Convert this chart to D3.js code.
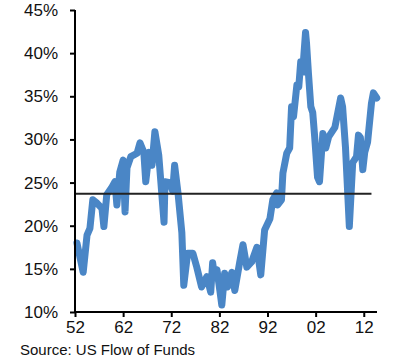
<!DOCTYPE html>
<html><head><meta charset="utf-8">
<script src="https://cdn.jsdelivr.net/npm/d3@7"></script>
<style>body{margin:0;background:#fff}svg{display:block}text{font-family:"Liberation Sans",Arial,sans-serif;fill:#111}</style>
</head><body><svg id="c" width="411" height="360"></svg>
<script>
const years = [1952.4,1953.7,1954.5,1955.1,1955.7,1956.6,1957.6,1958.0,1958.6,1959.7,1960.3,1960.7,1961.3,1962.0,1962.4,1962.8,1963.6,1964.9,1965.5,1966.3,1966.7,1967.4,1968.0,1968.6,1969.4,1970.5,1970.7,1971.7,1972.3,1972.7,1973.4,1974.2,1974.6,1975.4,1976.5,1977.3,1978.3,1979.4,1980.2,1980.6,1981.0,1981.5,1982.1,1982.5,1983.1,1983.7,1984.6,1985.2,1986.2,1986.9,1987.7,1988.7,1989.8,1990.6,1991.4,1992.5,1993.1,1993.9,1994.1,1994.9,1995.2,1996.0,1996.6,1997.0,1997.4,1998.1,1998.5,1998.9,1999.3,1999.9,2000.1,2000.5,2001.0,2001.4,2001.8,2002.4,2002.8,2003.5,2004.1,2004.7,2006.0,2007.2,2007.6,2008.2,2008.6,2009.0,2009.7,2010.5,2010.9,2011.3,2011.8,2012.2,2012.8,2013.6,2014.0,2014.7];
const values = [18.0,14.6,18.9,19.7,23.0,22.6,22.0,19.9,23.6,24.5,25.1,22.4,26.2,27.6,21.6,26.7,28.0,28.4,29.6,28.5,25.1,28.5,27.0,30.9,28.2,20.4,25.1,25.0,24.0,27.0,23.8,19.2,13.1,16.8,16.8,15.2,12.9,14.1,12.3,15.7,14.1,14.9,12.5,10.8,14.5,12.9,14.6,12.5,15.7,17.8,15.2,15.8,17.5,14.3,19.5,20.8,23.0,23.8,22.4,23.0,26.1,28.4,29.0,33.8,32.6,36.3,36.1,39.0,37.8,42.4,41.2,37.7,33.8,33.1,30.3,25.6,25.1,30.7,29.0,30.3,31.4,34.8,33.8,29.1,24.5,19.9,27.3,28.0,30.5,30.2,26.5,28.5,29.7,34.2,35.4,34.8];
const average = 23.7;
const yTicks = [10,15,20,25,30,35,40,45];
const xTicks = [1952,1962,1972,1982,1992,2002,2012];
const source = "Source: US Flow of Funds";

const svg = d3.select("#c");
const x = d3.scaleLinear().domain([1952, 2014.75]).range([75, 377]);
const y = d3.scaleLinear().domain([10, 45]).range([312, 10]);

const data = years.map((d,i)=>({year:d, v:values[i]}));

svg.append("path").datum(data)
  .attr("fill","none").attr("stroke","#4a86c6").attr("stroke-width",7)
  .attr("stroke-linejoin","round").attr("stroke-linecap","round")
  .attr("d", d3.line().x(d=>x(d.year)).y(d=>y(d.v)));

svg.append("line").attr("x1",x(1952)).attr("x2",x(2013.6))
  .attr("y1",y(average)).attr("y2",y(average))
  .attr("stroke","#222").attr("stroke-width",2);

const ya = svg.append("g").attr("transform","translate(75,0)")
  .call(d3.axisLeft(y).tickValues(yTicks).tickSize(5).tickPadding(12).tickFormat(d=>d+"%"));
const xa = svg.append("g").attr("transform","translate(0,312)")
  .call(d3.axisBottom(x).tickValues(xTicks).tickSize(5).tickPadding(4).tickFormat(d=>String(d).slice(2)));
[ya,xa].forEach(g=>{
  g.selectAll(".domain").attr("stroke","#000").attr("stroke-width",2);
  g.selectAll(".tick line").attr("stroke","#000").attr("stroke-width",2);
  g.selectAll("text").style("font-size","17px").style("font-family","'Liberation Sans',Arial,sans-serif").attr("fill","#111");
});
ya.select(".domain").attr("d","M0,10V312");
xa.select(".domain").attr("d","M75,0H377");

svg.append("text").attr("x",20).attr("y",355).style("font-size","15px").text(source);
</script></body></html>
